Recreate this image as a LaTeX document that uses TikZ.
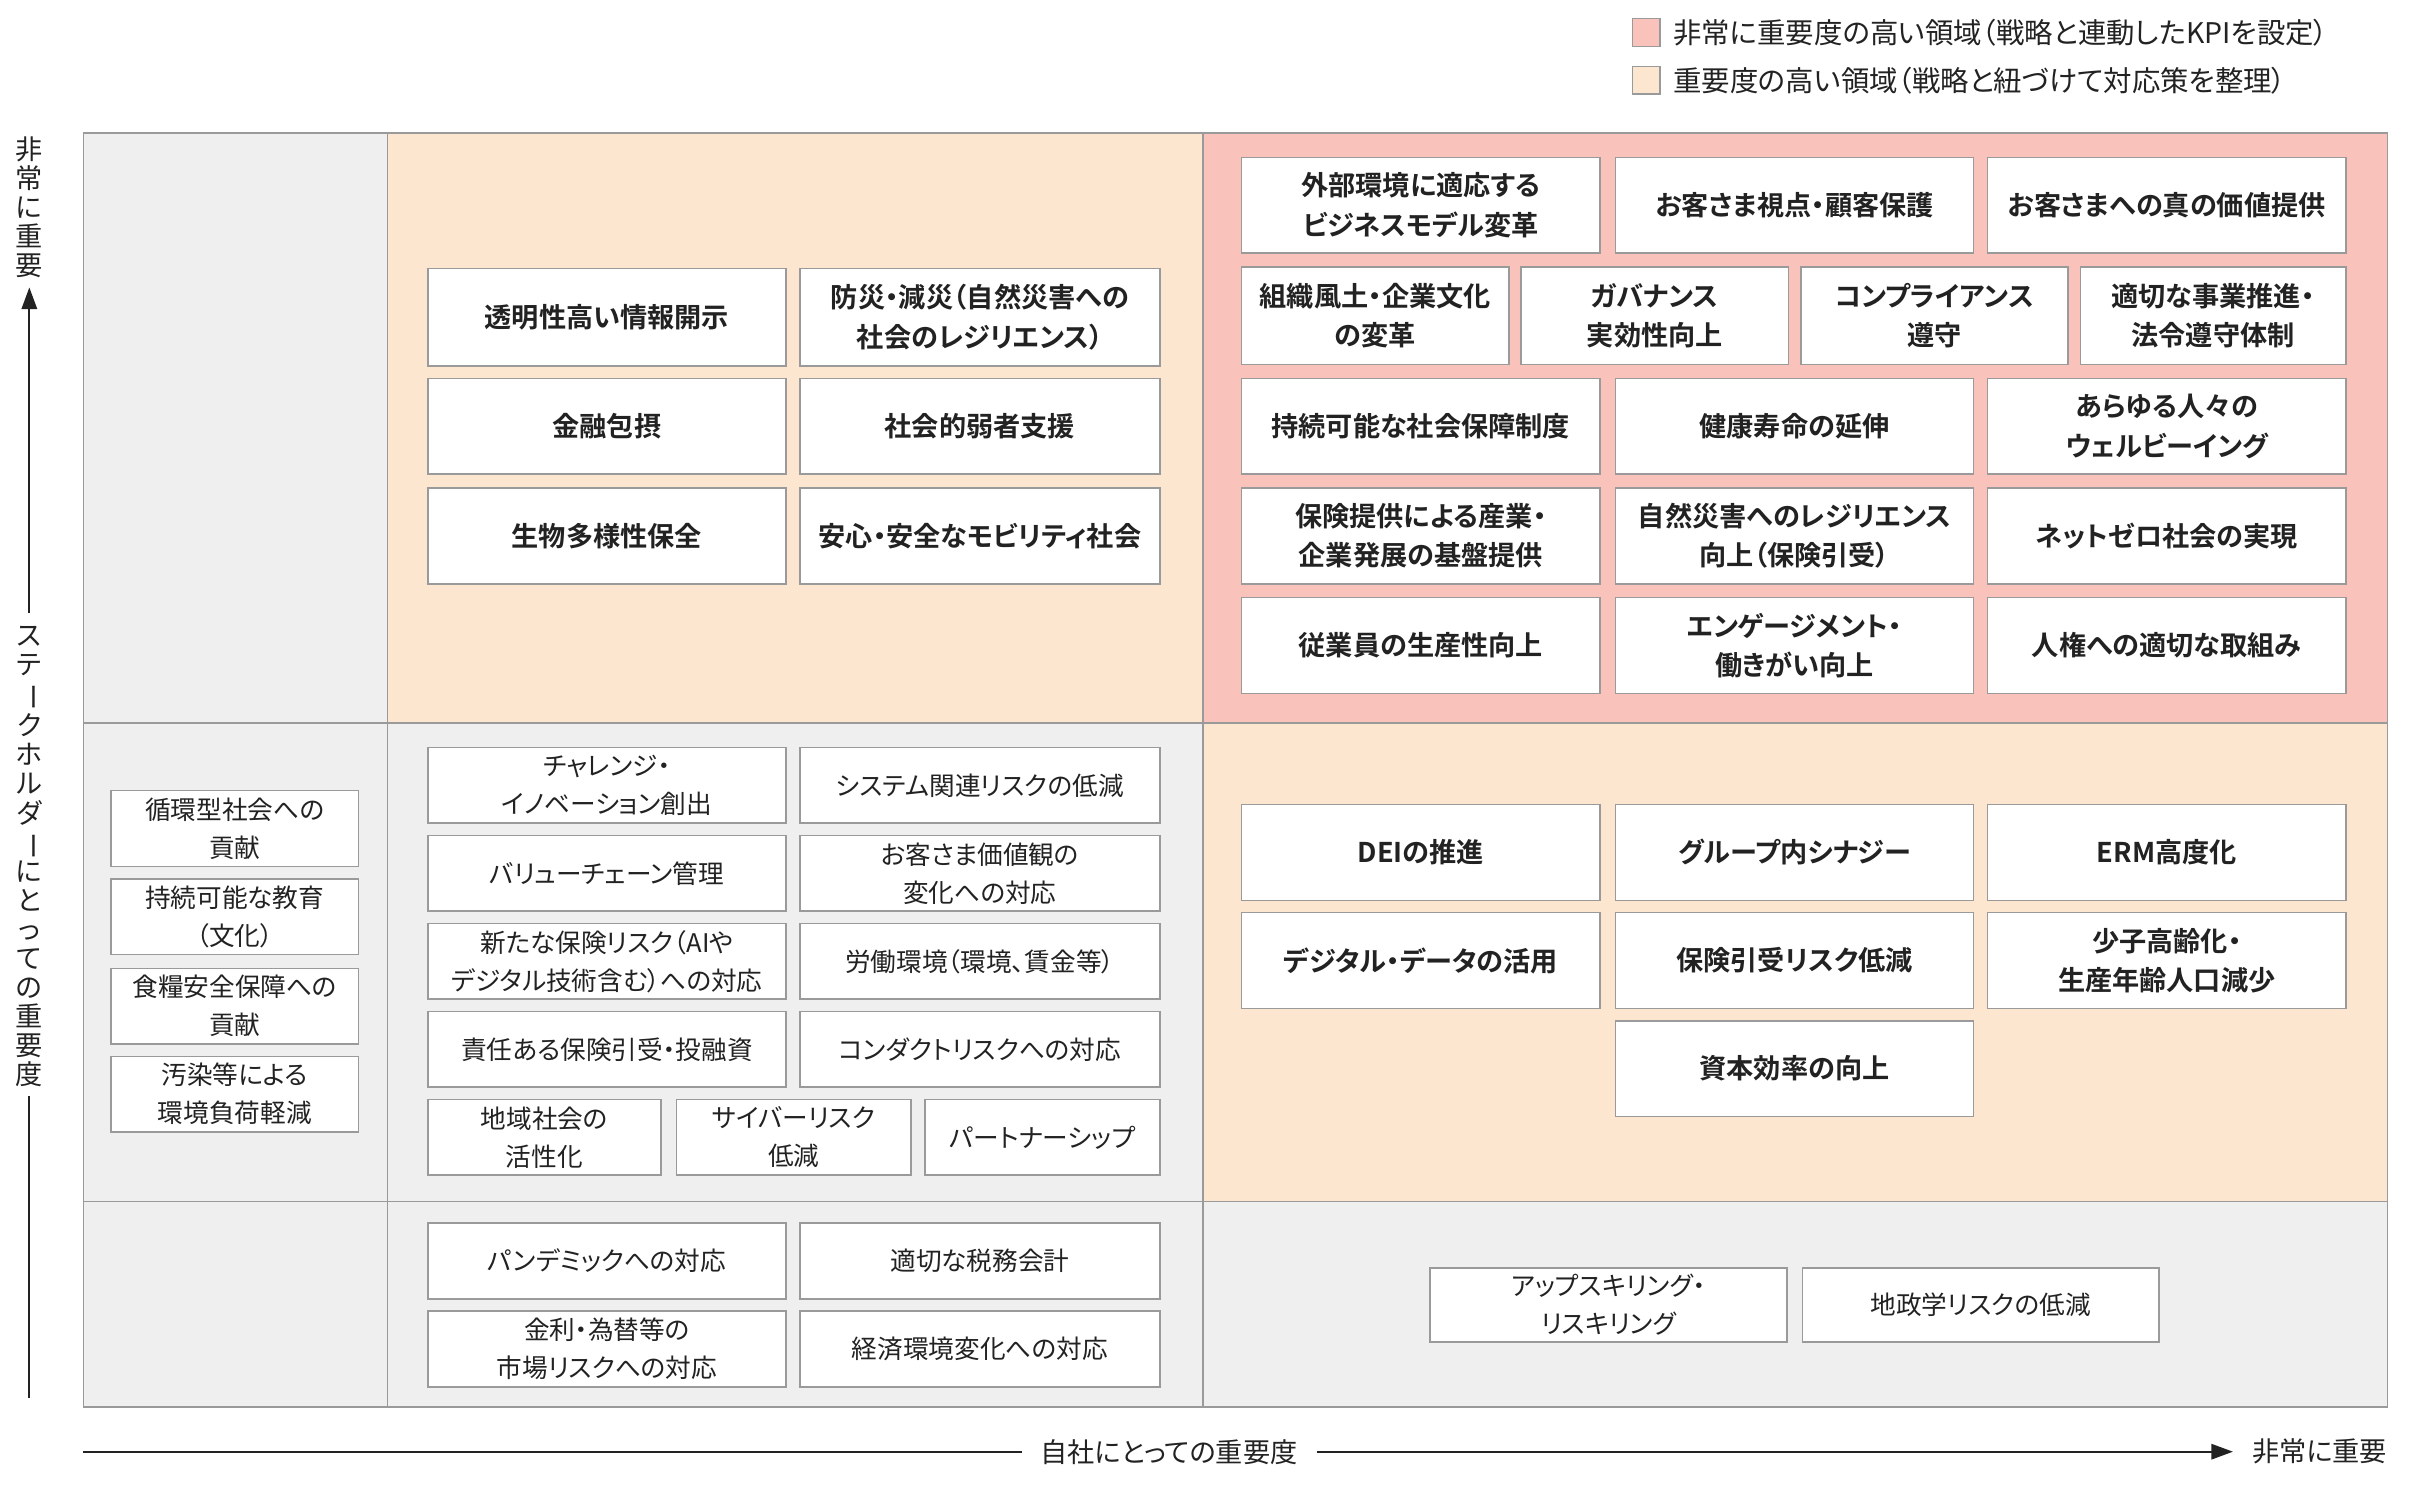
\documentclass[tikz,border=0pt]{standalone}
\usepackage{fontspec}
\setmainfont{Noto Sans CJK JP}[BoldFont={Noto Sans CJK JP Bold},RawFeature=+palt]
\usetikzlibrary{arrows.meta,calc}
\definecolor{pinkc}{HTML}{F9C3BB}
\definecolor{peachc}{HTML}{FDE6D0}
\definecolor{grayc}{HTML}{EFEFEF}
\definecolor{linec}{HTML}{9A9A9A}
\definecolor{txtc}{HTML}{222222}
\tikzset{
 cellb/.style={draw=linec, line width=0.5pt},
 boxn/.style={draw=linec, fill=white, line width=0.5pt, inner sep=0pt, outer sep=0pt, align=center, anchor=north west, text=txtc, font=\fontsize{8.3}{12.3}\selectfont},
 bboxn/.style={boxn, font=\bfseries\fontsize{8.8}{12.8}\selectfont},
 axl/.style={draw=txtc, line width=0.6pt},
 axt/.style={text=txtc, font=\fontsize{8.8}{10}\selectfont, inner sep=0pt},
}
\newcommand\bx[7]{\node[#1, minimum width={(#5-#3)*0.5pt}, minimum height={(#6-#4)*0.5pt}] (#2) at (#3,#4) {#7};}
\begin{document}
\begin{tikzpicture}[x=0.5pt,y=-0.5pt]
\useasboundingbox (0,0) rectangle (1567,967);
% cells
\fill[grayc] (54,86) rectangle (1546,911);
\fill[peachc] (251,86) rectangle (779,468);
\fill[pinkc] (779,86) rectangle (1546,468);
\fill[peachc] (779,468) rectangle (1546,778);
\draw[cellb] (54,86) rectangle (1546,911);
\draw[cellb] (251,86) -- (251,911);
\draw[cellb] (779,86) -- (779,911);
\draw[cellb] (54,468) -- (1546,468);
\draw[cellb] (54,778) -- (1546,778);
% legend
\draw[linec, fill=pinkc, line width=0.5pt] (1057,12) rectangle (1075,30);
\node[axt, anchor=west, font=\fontsize{9.2}{10}\selectfont] (lg1) at (1083,21) {非常に重要度の高い領域（戦略と連動したKPIを設定）};
\draw[linec, fill=peachc, line width=0.5pt] (1057,43) rectangle (1075,61);
\node[axt, anchor=west, font=\fontsize{9.2}{10}\selectfont] (lg2) at (1083,52) {重要度の高い領域（戦略と紐づけて対応策を整理）};
% col2 row1
\bx{bboxn}{a1}{277}{174}{509}{237}{透明性高い情報開示}
\bx{bboxn}{a2}{518}{174}{751}{237}{防災・減災（自然災害への\\社会のレジリエンス）}
\bx{bboxn}{a3}{277}{245}{509}{307}{金融包摂}
\bx{bboxn}{a4}{518}{245}{751}{307}{社会的弱者支援}
\bx{bboxn}{a5}{277}{316}{509}{378}{生物多様性保全}
\bx{bboxn}{a6}{518}{316}{751}{378}{安心・安全なモビリティ社会}
% col3 row1
\bx{bboxn}{b1}{804}{102}{1036}{164}{外部環境に適応する\\ビジネスモデル変革}
\bx{bboxn}{b2}{1046}{102}{1278}{164}{お客さま視点・顧客保護}
\bx{bboxn}{b3}{1287}{102}{1519}{164}{お客さまへの真の価値提供}
\bx{bboxn}{b4}{804}{173}{977}{236}{組織風土・企業文化\\の変革}
\bx{bboxn}{b5}{985}{173}{1158}{236}{ガバナンス\\実効性向上}
\bx{bboxn}{b6}{1166}{173}{1339}{236}{コンプライアンス\\遵守}
\bx{bboxn}{b7}{1347}{173}{1519}{236}{適切な事業推進・\\法令遵守体制}
\bx{bboxn}{b8}{804}{245}{1036}{307}{持続可能な社会保障制度}
\bx{bboxn}{b9}{1046}{245}{1278}{307}{健康寿命の延伸}
\bx{bboxn}{b10}{1287}{245}{1519}{307}{あらゆる人々の\\ウェルビーイング}
\bx{bboxn}{b11}{804}{316}{1036}{378}{保険提供による産業・\\企業発展の基盤提供}
\bx{bboxn}{b12}{1046}{316}{1278}{378}{自然災害へのレジリエンス\\向上（保険引受）}
\bx{bboxn}{b13}{1287}{316}{1519}{378}{ネットゼロ社会の実現}
\bx{bboxn}{b14}{804}{387}{1036}{449}{従業員の生産性向上}
\bx{bboxn}{b15}{1046}{387}{1278}{449}{エンゲージメント・\\働きがい向上}
\bx{bboxn}{b16}{1287}{387}{1519}{449}{人権への適切な取組み}
% col1 row2
\bx{boxn}{c1}{72}{512}{232}{561}{循環型社会への\\貢献}
\bx{boxn}{c2}{72}{569}{232}{618}{持続可能な教育\\（文化）}
\bx{boxn}{c3}{72}{627}{232}{676}{食糧安全保障への\\貢献}
\bx{boxn}{c4}{72}{684}{232}{733}{汚染等による\\環境負荷軽減}
% col2 row2
\bx{boxn}{d1}{277}{484}{509}{533}{チャレンジ・\\イノベーション創出}
\bx{boxn}{d2}{518}{484}{751}{533}{システム関連リスクの低減}
\bx{boxn}{d3}{277}{541}{509}{590}{バリューチェーン管理}
\bx{boxn}{d4}{518}{541}{751}{590}{お客さま価値観の\\変化への対応}
\bx{boxn}{d5}{277}{598}{509}{647}{新たな保険リスク（AIや\\デジタル技術含む）への対応}
\bx{boxn}{d6}{518}{598}{751}{647}{労働環境（環境、賃金等）}
\bx{boxn}{d7}{277}{655}{509}{704}{責任ある保険引受・投融資}
\bx{boxn}{d8}{518}{655}{751}{704}{コンダクトリスクへの対応}
\bx{boxn}{d9}{277}{712}{428}{761}{地域社会の\\活性化}
\bx{boxn}{d10}{438}{712}{590}{761}{サイバーリスク\\低減}
\bx{boxn}{d11}{599}{712}{751}{761}{パートナーシップ}
% col3 row2
\bx{bboxn}{e1}{804}{521}{1036}{583}{DEIの推進}
\bx{bboxn}{e2}{1046}{521}{1278}{583}{グループ内シナジー}
\bx{bboxn}{e3}{1287}{521}{1519}{583}{ERM高度化}
\bx{bboxn}{e4}{804}{591}{1036}{653}{デジタル・データの活用}
\bx{bboxn}{e5}{1046}{591}{1278}{653}{保険引受リスク低減}
\bx{bboxn}{e6}{1287}{591}{1519}{653}{少子高齢化・\\生産年齢人口減少}
\bx{bboxn}{e7}{1046}{661}{1278}{723}{資本効率の向上}
% row3
\bx{boxn}{f1}{277}{792}{509}{841}{パンデミックへの対応}
\bx{boxn}{f2}{518}{792}{751}{841}{適切な税務会計}
\bx{boxn}{f3}{277}{849}{509}{898}{金利・為替等の\\市場リスクへの対応}
\bx{boxn}{f4}{518}{849}{751}{898}{経済環境変化への対応}
\bx{boxn}{g1}{926}{821}{1157}{869}{アップスキリング・\\リスキリング}
\bx{boxn}{g2}{1167}{821}{1398}{869}{地政学リスクの低減}
% y axis
\node[axt, align=center, anchor=north, font=\fontsize{8.8}{9.4}\selectfont] (yt) at (19,88) {非\\常\\に\\重\\要};
\node[axt, align=center, anchor=north, font=\fontsize{8.8}{9.4}\selectfont] (yl) at (19,405) {ス\\テ\\\rotatebox[origin=c]{-90}{ー}\\ク\\ホ\\ル\\ダ\\\rotatebox[origin=c]{-90}{ー}\\に\\と\\っ\\て\\の\\重\\要\\度};
\coordinate (ye) at (19,905);
\draw[axl, -{Triangle[length=7pt,width=5pt]}] ($(yl.north)+(0,-8)$) -- ($(yt.south)+(0,6)$);
\draw[axl] ($(yl.south)+(0,6)$) -- (ye);
% x axis
\coordinate (xs) at (54,940);
\node[axt] (xl) at (757,940) {自社にとっての重要度};
\node[axt, anchor=east] (xr) at (1546,940) {非常に重要};
\draw[axl] (xs) -- ($(xl.west)+(-12,0)$);
\draw[axl, -{Triangle[length=7pt,width=5pt]}] ($(xl.east)+(12,0)$) -- ($(xr.west)+(-12,0)$);
\end{tikzpicture}
\end{document}
